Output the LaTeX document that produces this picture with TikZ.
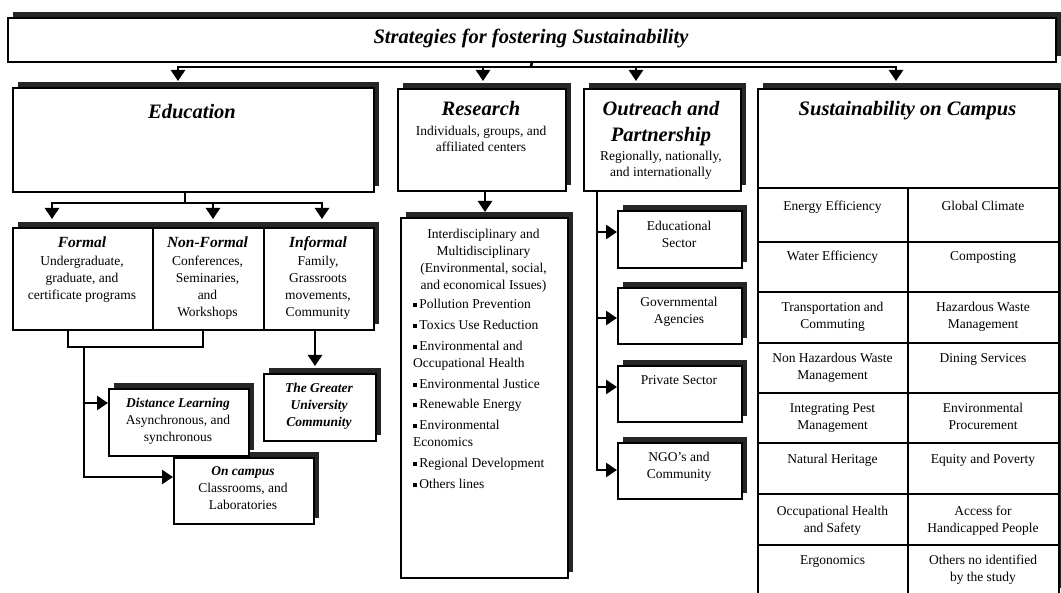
\documentclass[tikz,border=0pt]{standalone}
\usepackage{fontspec}
\setmainfont{Liberation Serif}
\usetikzlibrary{arrows.meta,shadows}

% multi-line text whose baseline is that of its first line
\newcommand{\mlc}[1]{\begin{tabular}[t]{@{}c@{}}#1\end{tabular}}
\newcommand{\mll}[1]{\begin{tabular}[t]{@{}l@{}}#1\end{tabular}}
\newcommand{\sqbullet}{\raisebox{1.6pt}{\rule{4pt}{4pt}}\,}

\begin{document}
\begin{tikzpicture}[x=1pt,y=-1pt,
  box/.style={draw=black, line width=1.6pt, fill=white, inner sep=0pt, anchor=north west,
    drop shadow={shadow xshift=5pt, shadow yshift=6pt, fill=black!85, opacity=1}},
  head/.style={inner sep=0pt, anchor=base,
    font=\fontsize{20.5}{26}\selectfont\bfseries\itshape},
  subhead/.style={inner sep=0pt, anchor=base,
    font=\fontsize{15.5}{17}\selectfont\bfseries\itshape},
  txt/.style={inner sep=0pt, anchor=base,
    font=\fontsize{13.5}{16.8}\selectfont},
  bitxt/.style={txt, font=\fontsize{13.5}{16.8}\selectfont\bfseries\itshape},
  link/.style={line width=2.6pt},
  arr/.style={link, -{Triangle[width=14pt,length=11pt]}},
  grid/.style={line width=1.6pt}
]
\useasboundingbox (0,0) rectangle (1061,593);
\fill[white] (0,0) rectangle (1061,593);

% ---------- title ----------
\node[box, minimum width=1048, minimum height=44] (title) at (7,17) {};
\node[head] (titletext) at (531,44) {Strategies for fostering Sustainability};

% ---------- education ----------
\node[box, minimum width=361, minimum height=104] (edu) at (12,87) {};
\node[head] (edut) at (192,119) {Education};

\node[box, minimum width=140, minimum height=102] (formal) at (12,227) {};
\node[box, minimum width=111, minimum height=102] (nonformal) at (152,227) {};
\node[box, minimum width=110, minimum height=102] (informal) at (263,227) {};
\node[subhead] (formalh) at (82,248) {Formal};
\node[txt] (formalt) at (82,266) {\mlc{Undergraduate,\\graduate, and\\certificate programs}};
\node[subhead] (nonformalh) at (207.5,248) {Non-Formal};
\node[txt] (nonformalt) at (207.5,266) {\mlc{Conferences,\\Seminaries,\\and\\Workshops}};
\node[subhead] (informalh) at (318,248) {Informal};
\node[txt] (informalt) at (318,266) {\mlc{Family,\\Grassroots\\movements,\\Community}};

\node[box, minimum width=140, minimum height=66] (oncampus) at (173,457) {};
\node[box, minimum width=140, minimum height=67] (distance) at (108,388) {};
\node[txt] (distancet) at (178,408) {\mlc{{\bfseries\itshape Distance Learning}\\Asynchronous, and\\synchronous}};
\node[txt] (oncampust) at (243,476) {\mlc{{\bfseries\itshape On campus}\\Classrooms, and\\Laboratories}};

\node[box, minimum width=112, minimum height=67] (greater) at (263,373) {};
\node[bitxt] (greatert) at (319,393) {\mlc{The Greater\\University\\Community}};

% ---------- research ----------
\node[box, minimum width=168, minimum height=102] (research) at (397,88) {};
\node[head] (researchh) at (481,116) {Research};
\node[txt, font=\fontsize{13.5}{16}\selectfont] (researcht) at (481,136) {\mlc{Individuals, groups, and\\affiliated centers}};

\node[box, minimum width=167, minimum height=360] (lines) at (400,217) {};
\node[txt] (linest) at (483.5,239) {\mlc{Interdisciplinary and\\Multidisciplinary\\(Environmental, social,\\and economical Issues)}};
\node[txt, anchor=base west] (linelist) at (413,309)
  {\mll{\sqbullet Pollution Prevention\\[4pt]
   \sqbullet Toxics Use Reduction\\[4pt]
   \sqbullet Environmental and\\Occupational Health\\[4pt]
   \sqbullet Environmental Justice\\[4pt]
   \sqbullet Renewable Energy\\[4pt]
   \sqbullet Environmental\\Economics\\[4pt]
   \sqbullet Regional Development\\[4pt]
   \sqbullet Others lines}};

% ---------- outreach ----------
\node[box, minimum width=157, minimum height=102] (outreach) at (583,88) {};
\node[head] (outreachh) at (661,116) {\mlc{Outreach and\\Partnership}};
\node[txt, font=\fontsize{13.5}{16}\selectfont] (outreacht) at (661,161) {\mlc{Regionally, nationally,\\and internationally}};

\node[box, minimum width=124, minimum height=57] (edsec) at (617,210) {};
\node[box, minimum width=124, minimum height=56] (gov) at (617,287) {};
\node[box, minimum width=124, minimum height=56] (priv) at (617,365) {};
\node[box, minimum width=124, minimum height=56] (ngo) at (617,442) {};
\node[txt] (edsect) at (679,231) {\mlc{Educational\\Sector}};
\node[txt] (govt) at (679,307) {\mlc{Governmental\\Agencies}};
\node[txt] (privt) at (679,385) {Private Sector};
\node[txt] (ngot) at (679,462) {\mlc{NGO's and\\Community}};

% ---------- sustainability on campus ----------
\node[box, minimum width=301, minimum height=505] (campus) at (757,88) {};
\node[head] (campush) at (907.5,116) {Sustainability on Campus};
\foreach \ry in {188,242,292,343,393,443,494,545}
  \draw[grid] (campus.west |- 0,\ry) -- (campus.east |- 0,\ry);
\draw[grid] (908,188) -- (908,593);

\node[txt] (c11) at (832.5,211) {Energy Efficiency};
\node[txt] (c12) at (983,211) {Global Climate};
\node[txt] (c21) at (832.5,261) {Water Efficiency};
\node[txt] (c22) at (983,261) {Composting};
\node[txt] (c31) at (832.5,312) {\mlc{Transportation and\\Commuting}};
\node[txt] (c32) at (983,312) {\mlc{Hazardous Waste\\Management}};
\node[txt] (c41) at (832.5,363) {\mlc{Non Hazardous Waste\\Management}};
\node[txt] (c42) at (983,363) {Dining Services};
\node[txt] (c51) at (832.5,413) {\mlc{Integrating Pest\\Management}};
\node[txt] (c52) at (983,413) {\mlc{Environmental\\Procurement}};
\node[txt] (c61) at (832.5,464) {Natural Heritage};
\node[txt] (c62) at (983,464) {Equity and Poverty};
\node[txt] (c71) at (832.5,516) {\mlc{Occupational Health\\and Safety}};
\node[txt] (c72) at (983,516) {\mlc{Access for\\Handicapped People}};
\node[txt] (c81) at (832.5,565) {Ergonomics};
\node[txt] (c82) at (983,565) {\mlc{Others no identified\\by the study}};

% ---------- connectors ----------
\coordinate (tb) at (531,67);
\coordinate (eduIn) at (178,81);
\coordinate (resIn) at (483,81);
\coordinate (outIn) at (636,81);
\coordinate (susIn) at (896,81);
\draw[link] (title.south) -- (tb);
\draw[arr] (tb) -| (eduIn);
\draw[arr] (tb) -| (resIn);
\draw[arr] (tb) -| (outIn);
\draw[arr] (tb) -| (susIn);

\coordinate (eb) at (185,203);
\coordinate (formalIn) at (52,219);
\coordinate (nonIn) at (213,219);
\coordinate (infIn) at (322,219);
\draw[link] (eb |- edu.south) -- (eb);
\draw[arr] (eb) -| (formalIn);
\draw[arr] (eb) -| (nonIn);
\draw[arr] (eb) -| (infIn);

\coordinate (fj) at (68,347);
\coordinate (nj) at (203,347);
\coordinate (dj) at (84,347);
\coordinate (distIn) at (108,403);
\coordinate (onIn) at (173,477);
\draw[link] (fj |- formal.south) -- (fj) -- (nj) -- (nj |- nonformal.south);
\draw[arr] (dj) |- (distIn);
\draw[arr] (dj) |- (onIn);

\coordinate (gIn) at (315,366);
\draw[arr] (gIn |- informal.south) -- (gIn);

\coordinate (rIn) at (485,212);
\draw[arr] (rIn |- research.south) -- (rIn);

\coordinate (ox) at (597,190);
\coordinate (edIn) at (617,232);
\coordinate (govIn) at (617,318);
\coordinate (privIn) at (617,387);
\coordinate (ngoIn) at (617,470);
\draw[arr] (ox) |- (edIn);
\draw[arr] (ox) |- (govIn);
\draw[arr] (ox) |- (privIn);
\draw[arr] (ox) |- (ngoIn);
\end{tikzpicture}
\end{document}
